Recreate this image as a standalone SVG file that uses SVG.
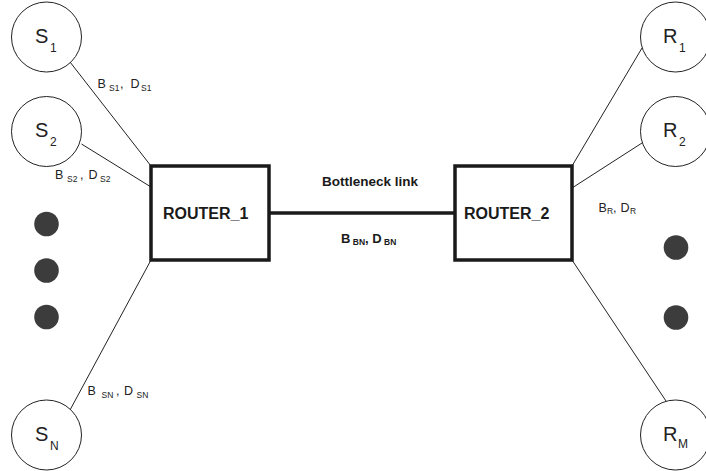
<svg xmlns="http://www.w3.org/2000/svg" width="706" height="471" viewBox="0 0 706 471">
  <style>
    .host { fill: #ffffff; stroke: #222222; stroke-width: 1; }
    .router { fill: #ffffff; stroke: #1a1a1a; stroke-width: 3.5; }
    .dot { fill: #3c3c3c; }
    .link { stroke: #222222; stroke-width: 1; fill: none; }
    .trunk { stroke: #1a1a1a; stroke-width: 3.5; fill: none; }
    .big { font-family: "Liberation Sans", Arial, sans-serif; font-size: 20px; fill: #222222; }
    .bigsub { font-family: "Liberation Sans", Arial, sans-serif; font-size: 12px; fill: #222222; }
    .lbl { font-family: "Liberation Sans", Arial, sans-serif; font-size: 12.5px; fill: #222222; }
    .sub { font-family: "Liberation Sans", Arial, sans-serif; font-size: 8.5px; fill: #222222; }
    .bold { font-family: "Liberation Sans", Arial, sans-serif; font-weight: bold; fill: #1a1a1a; }
  </style>

  <g id="connectors">
    <line class="link" x1="70" y1="62" x2="151" y2="166"/>
    <line class="link" x1="81.5" y1="144" x2="151" y2="187"/>
    <line class="link" x1="151" y1="260" x2="70" y2="410"/>
    <line class="link" x1="572" y1="166" x2="642" y2="48"/>
    <line class="link" x1="572" y1="188" x2="642" y2="143"/>
    <line class="link" x1="572" y1="260" x2="666" y2="401"/>
    <line class="trunk" x1="269" y1="213" x2="455" y2="213"/>
    <text class="bold" x="322" y="186" font-size="13.5">Bottleneck link</text>
    <text class="bold" x="341" y="242.5" font-size="13">B<tspan font-size="8.5" dy="2.5"> BN</tspan><tspan dy="-2.5">, D</tspan><tspan font-size="8.5" dy="2.5"> BN</tspan></text>
    <text class="lbl" x="97.5" y="87.5">B<tspan class="sub" x="109" dy="3">S1</tspan><tspan x="120" dy="-3">,</tspan><tspan x="130.5">D</tspan><tspan class="sub" x="141" dy="3">S1</tspan></text>
    <text class="lbl" x="55" y="178.5">B<tspan class="sub" x="67" dy="3">S2</tspan><tspan x="80" dy="-3">,</tspan><tspan x="88.5">D</tspan><tspan class="sub" x="100" dy="3">S2</tspan></text>
    <text class="lbl" x="87.5" y="394.5">B<tspan class="sub" x="101.5" dy="3">SN</tspan><tspan x="116" dy="-3">,</tspan><tspan x="124">D</tspan><tspan class="sub" x="136.5" dy="3">SN</tspan></text>
    <text class="lbl" x="598.5" y="211.5">B<tspan class="sub" x="607" dy="2.5">R</tspan><tspan x="613" dy="-2.5">,</tspan><tspan x="620.5">D</tspan><tspan class="sub" x="630" dy="2.5">R</tspan></text>
  </g>

  <g id="S1">
    <circle class="host" cx="46.5" cy="37" r="35"/>
    <text class="big" x="35" y="42.5">S<tspan class="bigsub" x="50" dy="9">1</tspan></text>
  </g>
  <g id="S2">
    <circle class="host" cx="46.5" cy="131.5" r="35"/>
    <text class="big" x="35" y="137">S<tspan class="bigsub" x="50" dy="9">2</tspan></text>
  </g>
  <g id="SN">
    <circle class="host" cx="46.5" cy="435" r="35"/>
    <text class="big" x="35" y="440.5">S<tspan class="bigsub" x="50" dy="9">N</tspan></text>
  </g>

  <g id="source-dots">
    <circle class="dot" cx="46.5" cy="224" r="12.3"/>
    <circle class="dot" cx="46.5" cy="270.5" r="12.3"/>
    <circle class="dot" cx="46.5" cy="317" r="12.3"/>
  </g>

  <g id="ROUTER_1">
    <rect class="router" x="151" y="166" width="118" height="94"/>
    <text class="bold" x="163" y="218.5" font-size="16">ROUTER_1</text>
  </g>
  <g id="ROUTER_2">
    <rect class="router" x="455" y="166" width="117" height="94"/>
    <text class="bold" x="464" y="218.5" font-size="16">ROUTER_2</text>
  </g>

  <g id="R1">
    <circle class="host" cx="675.5" cy="37" r="35"/>
    <text class="big" x="663" y="42.5">R<tspan class="bigsub" x="679" dy="9">1</tspan></text>
  </g>
  <g id="R2">
    <circle class="host" cx="675.5" cy="131.5" r="35"/>
    <text class="big" x="663" y="137">R<tspan class="bigsub" x="679" dy="9">2</tspan></text>
  </g>
  <g id="RM">
    <circle class="host" cx="675.5" cy="435" r="35"/>
    <text class="big" x="663" y="440.5">R<tspan class="bigsub" x="678" dy="7">M</tspan></text>
  </g>

  <g id="receiver-dots">
    <circle class="dot" cx="676" cy="247.5" r="12.3"/>
    <circle class="dot" cx="676" cy="317.5" r="12.3"/>
  </g>
</svg>
